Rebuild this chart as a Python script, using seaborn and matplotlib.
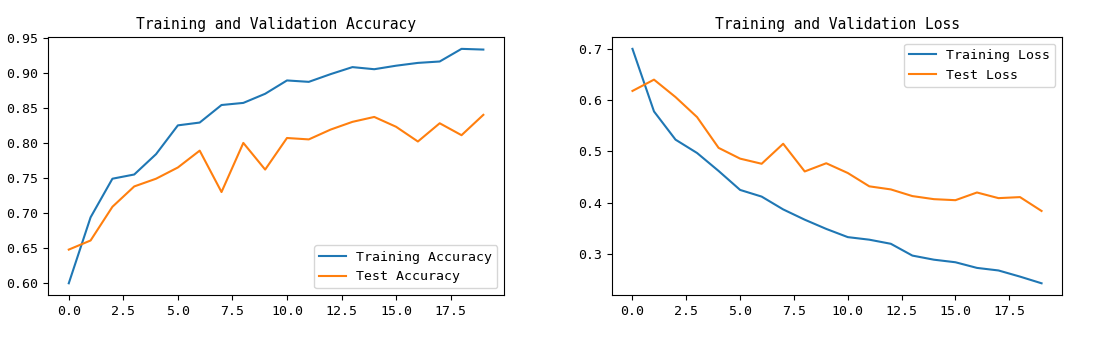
import matplotlib
matplotlib.use("Agg")
import matplotlib.pyplot as plt
import seaborn as sns
import pandas as pd

epochs = list(range(20))
train_acc = [0.600, 0.694, 0.749, 0.755, 0.784, 0.825, 0.829, 0.854, 0.857, 0.870,
             0.889, 0.887, 0.898, 0.908, 0.905, 0.910, 0.914, 0.916, 0.934, 0.933]
test_acc = [0.648, 0.661, 0.709, 0.738, 0.749, 0.765, 0.789, 0.730, 0.800, 0.762,
            0.807, 0.805, 0.819, 0.830, 0.837, 0.823, 0.802, 0.828, 0.811, 0.840]
train_loss = [0.700, 0.578, 0.523, 0.497, 0.462, 0.425, 0.412, 0.387, 0.367, 0.349,
              0.333, 0.328, 0.320, 0.297, 0.289, 0.284, 0.273, 0.268, 0.256, 0.243]
test_loss = [0.618, 0.640, 0.606, 0.567, 0.507, 0.486, 0.476, 0.515, 0.461, 0.477,
             0.458, 0.432, 0.426, 0.413, 0.407, 0.405, 0.420, 0.409, 0.411, 0.384]

plt.rcParams['font.family'] = ['DejaVu Sans Mono', 'Noto Sans CJK SC']
plt.rcParams['xtick.labelsize'] = 9.5
plt.rcParams['ytick.labelsize'] = 9.5

fig = plt.figure(figsize=(10.97, 3.42), dpi=100)
ax1 = fig.add_axes([0.0438, 0.1374, 0.4157, 0.754])
ax2 = fig.add_axes([0.5579, 0.1374, 0.4102, 0.754])

blue, orange = sns.color_palette("tab10")[:2]

sns.lineplot(x=epochs, y=train_acc, ax=ax1, color=blue, label="Training Accuracy")
sns.lineplot(x=epochs, y=test_acc, ax=ax1, color=orange, label="Test Accuracy")
ax1.legend(loc="lower right", fontsize=9.5)
ax1.set_title("Training and Validation Accuracy", fontsize=10.5)

sns.lineplot(x=epochs, y=train_loss, ax=ax2, color=blue, label="Training Loss")
sns.lineplot(x=epochs, y=test_loss, ax=ax2, color=orange, label="Test Loss")
ax2.legend(loc="upper right", fontsize=9.5)
ax2.set_title("Training and Validation Loss", fontsize=10.5)

for ax in (ax1, ax2):
    ax.set_xticks([0, 2.5, 5, 7.5, 10, 12.5, 15, 17.5])
    ax.set_xticklabels(["0.0", "2.5", "5.0", "7.5", "10.0", "12.5", "15.0", "17.5"])

fig.savefig("out.png", dpi=100)
